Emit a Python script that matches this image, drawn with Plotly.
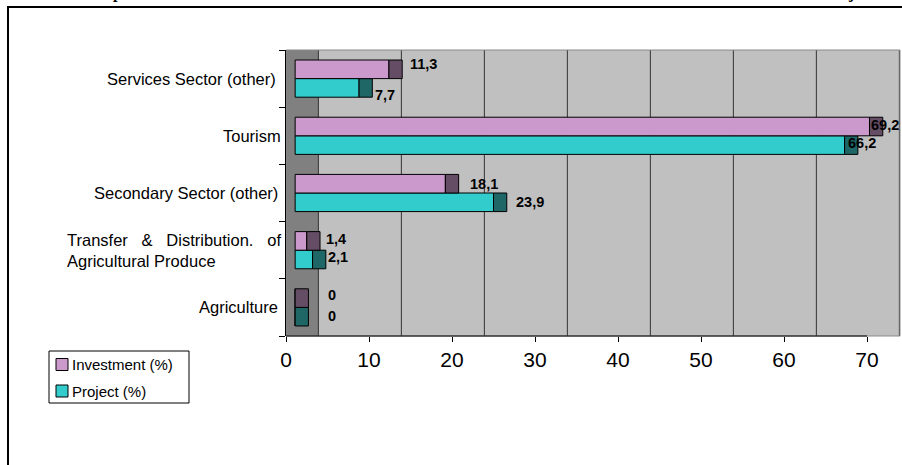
import plotly.graph_objects as go

# ---------------- data ----------------
categories = [
    "Agriculture",
    "Transfer & Distribution. of Agricultural Produce",
    "Secondary Sector (other)",
    "Tourism",
    "Services Sector (other)",
]
category_text = [
    "Agriculture",
    "Transfer\u00a0\u00a0\u00a0&\u00a0\u00a0\u00a0Distribution.\u00a0\u00a0\u00a0of<br>Agricultural Produce",
    "Secondary Sector (other)",
    "Tourism",
    "Services Sector (other)",
]
investment = [0, 1.4, 18.1, 69.2, 11.3]
project = [0, 2.1, 23.9, 66.2, 7.7]
investment_labels = ["0", "1,4", "18,1", "69,2", "11,3"]
project_labels = ["0", "2,1", "23,9", "66,2", "7,7"]
x_tickvals = [0, 10, 20, 30, 40, 50, 60, 70]
series_names = ["Investment (%)", "Project (%)"]

# ---------------- style / geometry ----------------
FIG_W, FIG_H = 902, 465
M_L, M_R, M_T, M_B = 286, 2, 50, 129
PLOT_W = FIG_W - M_L - M_R
PLOT_H = FIG_H - M_T - M_B
PX_PER_UNIT = 8.3
X_MAX = PLOT_W / PX_PER_UNIT
BAR_INSET = 1.1      # 3D depth inset of the bars (value units)
CAP_W = 1.6          # width of the dark 3D end face (value units)
DEPTH = 3.9          # depth of the side wall (value units)
BAR_OFF = 0.1625     # half slot of a bar inside its category

INV_FRONT, INV_CAP = "#CC99CC", "#664D66"
PRJ_FRONT, PRJ_CAP = "#33CCCC", "#1F6666"
FONT = "Arial, Liberation Sans, sans-serif"

# label nudges (px)
inv_dx = [18, 4, 9, -14, 6]
inv_dy = [-3, -2, 0, -2, -5]
prj_dx = [18, 0, 7, -12, 1]
prj_dy = [-1, -3, 0, -2, 7]
cat_right_px = [280, 283, 280, 283, 278]


def px_x(px):
    return (px - M_L) / PLOT_W


def px_y(py):
    return (FIG_H - M_B - py) / PLOT_H


fig = go.Figure()

series = [
    (series_names[1], project, PRJ_FRONT, PRJ_CAP, "p"),
    (series_names[0], investment, INV_FRONT, INV_CAP, "i"),
]
for name, vals, front, cap, og in series:
    fig.add_trace(go.Bar(
        y=categories, x=vals, base=[BAR_INSET] * len(vals), orientation="h",
        offsetgroup=og, name=name, showlegend=False,
        marker=dict(color=front, line=dict(color="black", width=1)),
    ))
    fig.add_trace(go.Bar(
        y=categories, x=[CAP_W] * len(vals), base=[BAR_INSET + v for v in vals],
        orientation="h", offsetgroup=og, name=name, showlegend=False,
        marker=dict(color=cap, line=dict(color="black", width=1)),
    ))

shapes = []
# dark side wall
shapes.append(dict(type="rect", xref="x", yref="paper", x0=0, x1=DEPTH, y0=0, y1=1,
                   fillcolor="#808080", line=dict(width=0), layer="below"))
# back wall gridlines
for t in x_tickvals:
    shapes.append(dict(type="line", xref="x", yref="paper", x0=t + DEPTH, x1=t + DEPTH,
                       y0=0, y1=1, line=dict(color="#333333", width=1), layer="below"))
# wall border
shapes.append(dict(type="rect", xref="paper", yref="paper", x0=0, x1=1, y0=0, y1=1,
                   line=dict(color="#8a8a8a", width=1), layer="below"))
# front floor edge (x axis line)
shapes.append(dict(type="line", xref="paper", yref="paper",
                   x0=0, x1=px_x(M_L + max(x_tickvals) * PX_PER_UNIT), y0=0, y1=0,
                   line=dict(color="black", width=1)))
# outer frame
shapes.append(dict(type="rect", xref="paper", yref="paper",
                   x0=px_x(8), x1=px_x(912), y0=px_y(7), y1=px_y(480),
                   line=dict(color="black", width=2)))
# legend box and swatches
shapes.append(dict(type="rect", xref="paper", yref="paper",
                   x0=px_x(49), x1=px_x(189), y0=px_y(351), y1=px_y(403),
                   fillcolor="white", line=dict(color="black", width=1)))
legend_rows = [(series_names[0], INV_FRONT, 364.5), (series_names[1], PRJ_FRONT, 391)]
annotations = []
for name, col, cy in legend_rows:
    shapes.append(dict(type="rect", xref="paper", yref="paper",
                       x0=px_x(56), x1=px_x(68), y0=px_y(cy - 6), y1=px_y(cy + 6),
                       fillcolor=col, line=dict(color="black", width=1)))
    annotations.append(dict(xref="paper", yref="paper", x=px_x(70), y=px_y(cy),
                            xanchor="left", yanchor="middle", text=name, showarrow=False,
                            font=dict(family=FONT, size=15, color="black")))

# category labels
for i, txt in enumerate(category_text):
    annotations.append(dict(xref="paper", yref="y", x=px_x(cat_right_px[i]), y=i,
                            xanchor="right", yanchor="middle", text=txt, showarrow=False,
                            align="left", font=dict(family=FONT, size=16.5, color="black")))

# data labels
for i in range(len(categories)):
    annotations.append(dict(xref="x", yref="y", x=BAR_INSET + investment[i] + CAP_W,
                            y=i + BAR_OFF, xanchor="left", yanchor="middle",
                            xshift=inv_dx[i], yshift=-inv_dy[i], text=investment_labels[i],
                            showarrow=False,
                            font=dict(family=FONT, size=14.5, color="black", weight="bold")))
    annotations.append(dict(xref="x", yref="y", x=BAR_INSET + project[i] + CAP_W,
                            y=i - BAR_OFF, xanchor="left", yanchor="middle",
                            xshift=prj_dx[i], yshift=-prj_dy[i], text=project_labels[i],
                            showarrow=False,
                            font=dict(family=FONT, size=14.5, color="black", weight="bold")))

# fragments of the cropped title above the frame
for ch, xp in [("p", 117), ("j", 851)]:
    annotations.append(dict(xref="paper", yref="paper", x=px_x(xp), y=px_y(4.5),
                            xanchor="center", yanchor="bottom", text=ch, showarrow=False,
                            font=dict(family="Liberation Serif, Times New Roman, serif",
                                      size=16, color="black", weight="bold")))

fig.update_layout(
    width=FIG_W, height=FIG_H, autosize=False,
    margin=dict(l=M_L, r=M_R, t=M_T, b=M_B, pad=0),
    paper_bgcolor="white", plot_bgcolor="#C0C0C0",
    barmode="group", bargap=0.35, bargroupgap=0,
    showlegend=False,
    shapes=shapes, annotations=annotations,
    xaxis=dict(range=[0, X_MAX], tickvals=x_tickvals, ticks="outside", ticklen=5,
               tickcolor="black", showgrid=False, zeroline=False, showline=False,
               tickfont=dict(family=FONT, size=21, color="black")),
    yaxis=dict(type="category", categoryorder="array", categoryarray=categories,
               range=[-0.5, len(categories) - 0.5], showticklabels=False,
               ticks="outside", tickson="boundaries", ticklen=6, tickcolor="black",
               showline=True, linecolor="black", linewidth=1,
               showgrid=False, zeroline=False),
)

fig.write_html("out.html")
